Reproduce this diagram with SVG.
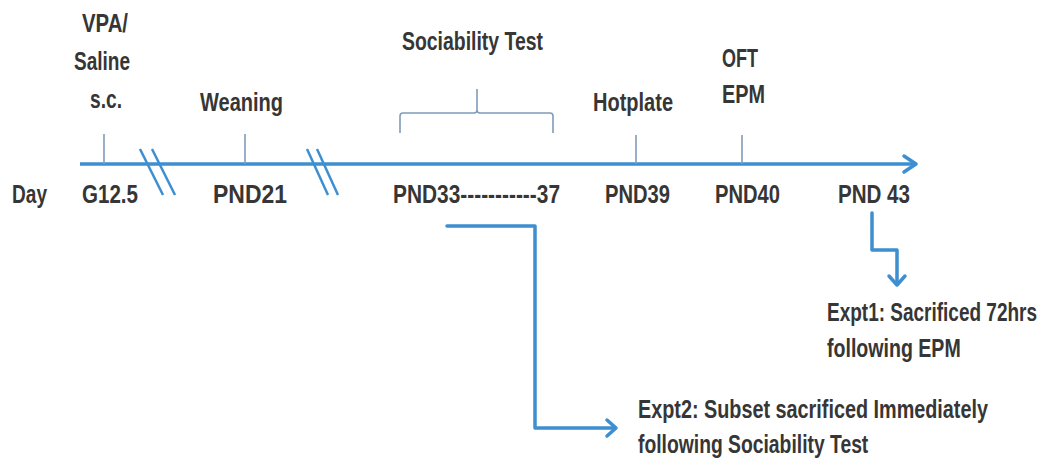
<svg xmlns="http://www.w3.org/2000/svg" width="1047" height="462" viewBox="0 0 1047 462">
<style>
text{font-family:"Liberation Sans",Arial,sans-serif;font-size:26px;font-weight:bold;fill:#363636;}
.axis{stroke:#3d8fd1;stroke-width:3.5;fill:none;}
.arr{stroke:#3d8fd1;stroke-width:3.5;fill:none;stroke-linejoin:round;stroke-linecap:round;}
.tick{stroke:#7f9cba;stroke-width:1.6;fill:none;}
.brk{stroke:#3d8fd1;stroke-width:2.5;fill:none;}
</style>
<rect width="1047" height="462" fill="#fff"/>
<g id="connectors">
<line class="axis" x1="80" y1="164" x2="914" y2="164"/>
<polyline class="arr" points="904,156 916,164 904,172"/>
<line class="brk" x1="140" y1="149" x2="163" y2="195"/>
<line class="brk" x1="152" y1="149" x2="175" y2="195"/>
<line class="brk" x1="307" y1="149" x2="328" y2="195"/>
<line class="brk" x1="317" y1="149" x2="338" y2="195"/>
<polyline class="arr" points="447,226 535,226 535,428 615,428" stroke-linecap="butt"/>
<polyline class="arr" points="607,420 616,428 607,436"/>
<polyline class="arr" points="872,213 872,250 897,250 897,284" stroke-linecap="butt"/>
<polyline class="arr" points="889,276 897,285 905,276"/>
</g>
<g id="day-label"><text x="12" y="203" textLength="35" lengthAdjust="spacingAndGlyphs">Day</text></g>
<g id="node-g125">
<line class="tick" x1="104" y1="134" x2="104" y2="164"/>
<text x="82" y="32" textLength="46" lengthAdjust="spacingAndGlyphs">VPA/</text>
<text x="74" y="70" textLength="56" lengthAdjust="spacingAndGlyphs">Saline</text>
<text x="90" y="108" textLength="32" lengthAdjust="spacingAndGlyphs">s.c.</text>
<text x="82" y="203" textLength="56" lengthAdjust="spacingAndGlyphs">G12.5</text>
</g>
<g id="node-pnd21">
<line class="tick" x1="245" y1="134" x2="245" y2="164"/>
<text x="200" y="111" textLength="83" lengthAdjust="spacingAndGlyphs">Weaning</text>
<text x="213" y="203" textLength="74" lengthAdjust="spacingAndGlyphs">PND21</text>
</g>
<g id="node-pnd33-37">
<path class="tick" d="M400,133 L400,116 Q400,113 403,113 L474,113 Q477,113 477,110 L477,89 M477,110 Q477,113 480,113 L550,113 Q553,113 553,116 L553,133"/>
<text x="402" y="50" textLength="141" lengthAdjust="spacingAndGlyphs">Sociability Test</text>
<text x="393" y="203" textLength="167" lengthAdjust="spacingAndGlyphs">PND33-----------37</text>
</g>
<g id="node-pnd39">
<line class="tick" x1="636" y1="135" x2="636" y2="164"/>
<text x="593" y="111" textLength="80" lengthAdjust="spacingAndGlyphs">Hotplate</text>
<text x="605" y="203" textLength="65" lengthAdjust="spacingAndGlyphs">PND39</text>
</g>
<g id="node-pnd40">
<line class="tick" x1="742" y1="135" x2="742" y2="164"/>
<text x="722" y="67" textLength="36" lengthAdjust="spacingAndGlyphs">OFT</text>
<text x="722" y="103" textLength="43" lengthAdjust="spacingAndGlyphs">EPM</text>
<text x="715" y="203" textLength="65" lengthAdjust="spacingAndGlyphs">PND40</text>
</g>
<g id="node-pnd43">
<text x="838" y="203" textLength="72" lengthAdjust="spacingAndGlyphs">PND 43</text>
</g>
<g id="node-expt1">
<text transform="translate(827,321) scale(0.7,1)" x="0" y="0" textLength="300" lengthAdjust="spacingAndGlyphs">Expt1: Sacrificed 72hrs</text>
<text transform="translate(827,357) scale(0.7,1)" x="0" y="0" textLength="191" lengthAdjust="spacingAndGlyphs">following EPM</text>
</g>
<g id="node-expt2">
<text transform="translate(638,418) scale(0.7,1)" x="0" y="0" textLength="500" lengthAdjust="spacingAndGlyphs">Expt2: Subset sacrificed Immediately</text>
<text transform="translate(638,453) scale(0.7,1)" x="0" y="0" textLength="329" lengthAdjust="spacingAndGlyphs">following Sociability Test</text>
</g>
</svg>
